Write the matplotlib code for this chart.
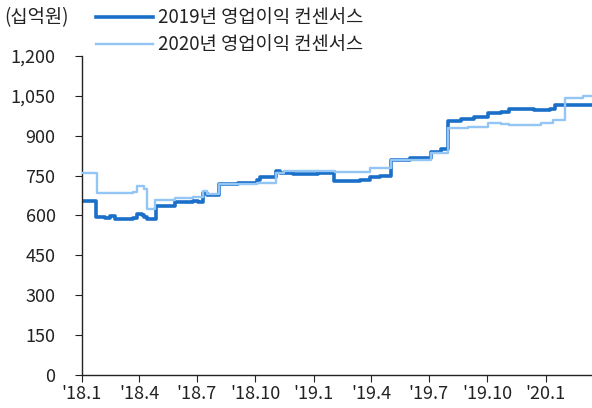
import matplotlib
matplotlib.use("Agg")
import matplotlib.pyplot as plt
import pandas as pd

plt.rcParams["font.family"] = ["Noto Sans CJK KR", "DejaVu Sans"]

# 2019년 영업이익 컨센서스 (step changes)
dates_19 = ["2018-01-01", "2018-01-23", "2018-02-06", "2018-02-14", "2018-02-22",
            "2018-03-22", "2018-03-29", "2018-04-06", "2018-04-09", "2018-04-14",
            "2018-04-28", "2018-05-28", "2018-06-25", "2018-07-03", "2018-07-11",
            "2018-07-17", "2018-08-04", "2018-09-04", "2018-10-04", "2018-10-09",
            "2018-11-03", "2018-11-09", "2018-11-30", "2019-01-07", "2019-02-01",
            "2019-03-15", "2019-03-31", "2019-04-15", "2019-05-03", "2019-06-02",
            "2019-07-04", "2019-07-20", "2019-07-31", "2019-08-20", "2019-09-10",
            "2019-10-02", "2019-10-22", "2019-11-04", "2019-12-13", "2020-01-08",
            "2020-01-16", "2020-03-14"]
vals_19 = [655, 596, 590, 598, 585,
           592, 607, 600, 595, 585,
           636, 650, 655, 652, 685,
           677, 718, 722, 733, 745,
           767, 760, 756, 760, 728,
           734, 745, 750, 809, 817,
           839, 850, 955, 963, 970,
           985, 990, 1000, 997, 1000,
           1015, 1015]

# 2020년 영업이익 컨센서스
dates_20 = ["2018-01-01", "2018-01-24", "2018-03-22", "2018-03-29", "2018-04-09",
            "2018-04-14", "2018-04-26", "2018-05-28", "2018-06-25", "2018-07-11",
            "2018-07-17", "2018-08-04", "2018-09-04", "2018-10-04", "2018-11-03",
            "2018-11-15", "2019-02-04", "2019-03-31", "2019-05-03", "2019-07-04",
            "2019-07-31", "2019-08-31", "2019-10-02", "2019-10-22", "2019-11-04",
            "2019-12-24", "2020-01-13", "2020-02-01", "2020-02-29", "2020-03-14"]
vals_20 = [758, 685, 690, 711, 700,
           625, 658, 666, 670, 692,
           680, 718, 720, 722, 760,
           767, 764, 778, 809, 836,
           929, 933, 948, 944, 940,
           948, 959, 1042, 1050, 1050]

tick_dates = ["2018-01-01", "2018-04-01", "2018-07-01", "2018-10-01", "2019-01-01",
              "2019-04-01", "2019-07-01", "2019-10-01", "2020-01-01"]
tick_labels = ["'18.1", "'18.4", "'18.7", "'18.10", "'19.1",
               "'19.4", "'19.7", "'19.10", "'20.1"]
y_ticks = [0, 150, 300, 450, 600, 750, 900, 1050, 1200]

d19 = pd.to_datetime(dates_19)
d20 = pd.to_datetime(dates_20)

fig = plt.figure(figsize=(5.92, 4.08), dpi=100)
ax = fig.add_axes([0.1385, 0.081, 0.8615, 0.7817])

ax.plot(d19, vals_19, drawstyle="steps-post", color="#1a6fc8", lw=2.6,
        label="2019년 영업이익 컨센서스", zorder=2)
ax.plot(d20, vals_20, drawstyle="steps-post", color="#93c6f4", lw=1.7,
        label="2020년 영업이익 컨센서스", zorder=3)

ax.set_xlim(pd.Timestamp("2018-01-01"), pd.Timestamp("2020-03-14"))
ax.set_ylim(0, 1200)
ax.set_yticks(y_ticks)
ax.set_yticklabels([f"{v:,}" for v in y_ticks])
ax.set_xticks(pd.to_datetime(tick_dates))
ax.set_xticklabels(tick_labels)

for s in ["top", "right"]:
    ax.spines[s].set_visible(False)
for s in ["left", "bottom"]:
    ax.spines[s].set_color("#222222")
    ax.spines[s].set_linewidth(1.0)
ax.tick_params(axis="both", colors="#222222", labelsize=13, length=5, width=0.8)
ax.tick_params(axis="x", pad=2)
ax.tick_params(axis="y", pad=14)

fig.text(0.008, 0.957, "(십억원)", fontsize=13.5, va="center", ha="left", color="#222222")
fig.legend(loc="upper left", bbox_to_anchor=(0.163, 0.982), frameon=False,
           fontsize=13.5, handlelength=3.0, handletextpad=0.3, labelspacing=0.32,
           borderpad=0, borderaxespad=0, labelcolor="#222222")

fig.savefig("out.png", dpi=100)
plt.close(fig)
